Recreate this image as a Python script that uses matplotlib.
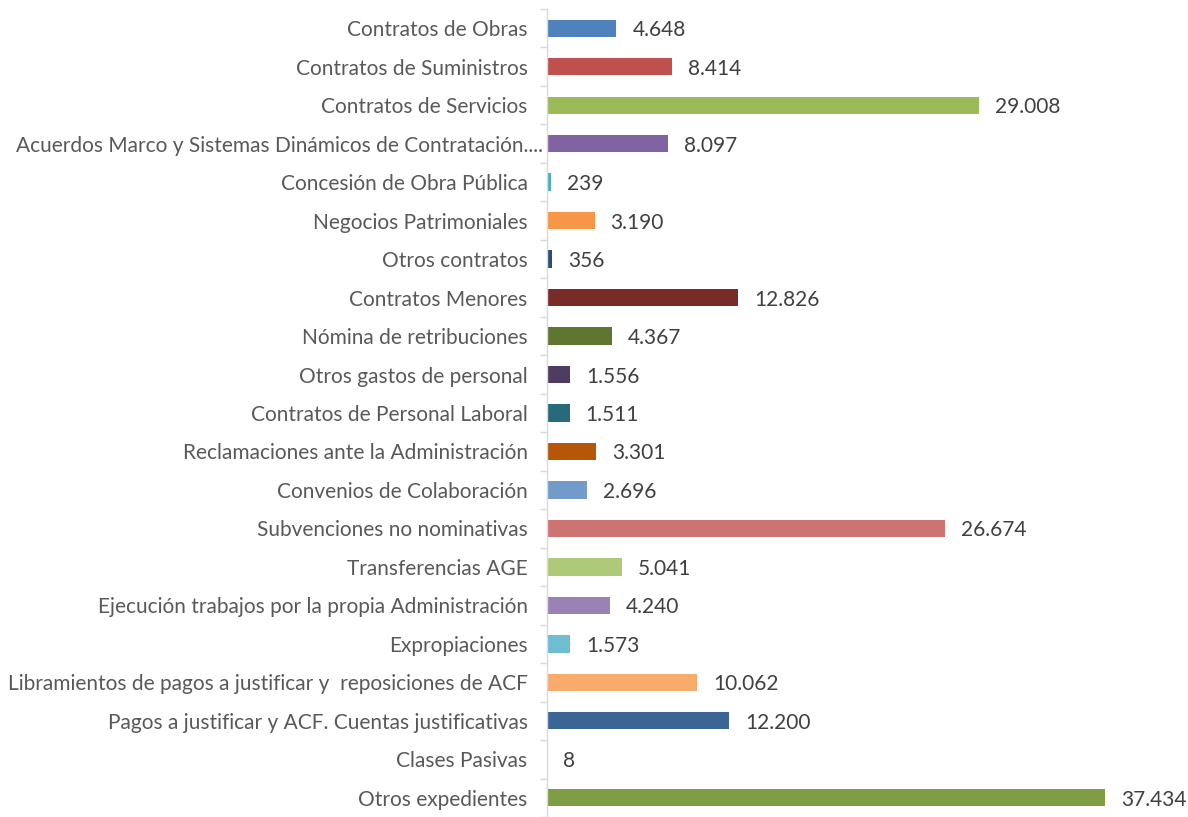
import matplotlib.pyplot as plt
from matplotlib.ticker import FixedLocator
from matplotlib.transforms import ScaledTranslation

categories = [
    "Contratos de Obras",
    "Contratos de Suministros",
    "Contratos de Servicios",
    "Acuerdos Marco y Sistemas Dinámicos de Contratación....",
    "Concesión de Obra Pública",
    "Negocios Patrimoniales",
    "Otros contratos",
    "Contratos Menores",
    "Nómina de retribuciones",
    "Otros gastos de personal",
    "Contratos de Personal Laboral",
    "Reclamaciones ante la Administración",
    "Convenios de Colaboración",
    "Subvenciones no nominativas",
    "Transferencias AGE",
    "Ejecución trabajos por la propia Administración",
    "Expropiaciones",
    "Libramientos de pagos a justificar y  reposiciones de ACF",
    "Pagos a justificar y ACF. Cuentas justificativas",
    "Clases Pasivas",
    "Otros expedientes",
]
values = [4648, 8414, 29008, 8097, 239, 3190, 356, 12826, 4367, 1556, 1511,
          3301, 2696, 26674, 5041, 4240, 1573, 10062, 12200, 8, 37434]
colors = ["#4F81BD", "#C0504D", "#9BBB59", "#8064A2", "#4BACC6", "#F79646",
          "#2C4D75", "#772C2A", "#5F7530", "#4D3B62", "#276A7C", "#B65708",
          "#729ACA", "#CD7371", "#AFC97A", "#9983B5", "#6FBDD1", "#F9AB6B",
          "#3A6595", "#8C3836", "#7E9D44"]

fig = plt.figure(figsize=(11.88, 8.17), dpi=100)
ax = fig.add_axes([547 / 1188, 0, 641 / 1188, 808 / 817])

n = len(categories)
ypos = list(range(n))
ax.barh(ypos, values, height=0.45, color=colors)

ax.set_ylim(n - 0.5, -0.5)
ax.set_xlim(0, 37434 * 641 / 558)

ax.set_yticks(ypos)
ax.set_yticklabels(categories, fontsize=15, color="#595959", family="Lato")
ax.tick_params(axis="y", which="major", length=0, pad=14)
ax.yaxis.set_minor_locator(FixedLocator([i - 0.5 for i in range(n + 1)]))
ax.tick_params(axis="y", which="minor", length=5, color="#D9D9D9", width=1)
ax.set_xticks([])

# the truncated label sits a bit further right in the original
lbl = ax.get_yticklabels()[3]
lbl.set_transform(lbl.get_transform() + ScaledTranslation(0.15, 0, fig.dpi_scale_trans))

for s in ["top", "right", "bottom"]:
    ax.spines[s].set_visible(False)
ax.spines["left"].set_color("#D9D9D9")
ax.spines["left"].set_linewidth(1)

for y, v in zip(ypos, values):
    ax.annotate(f"{v:,}".replace(",", "."), (v, y), xytext=(16, -2),
                textcoords="offset pixels", va="center", ha="left",
                fontsize=15, color="#404040", family="Lato")

fig.savefig("out.png", dpi=100)
